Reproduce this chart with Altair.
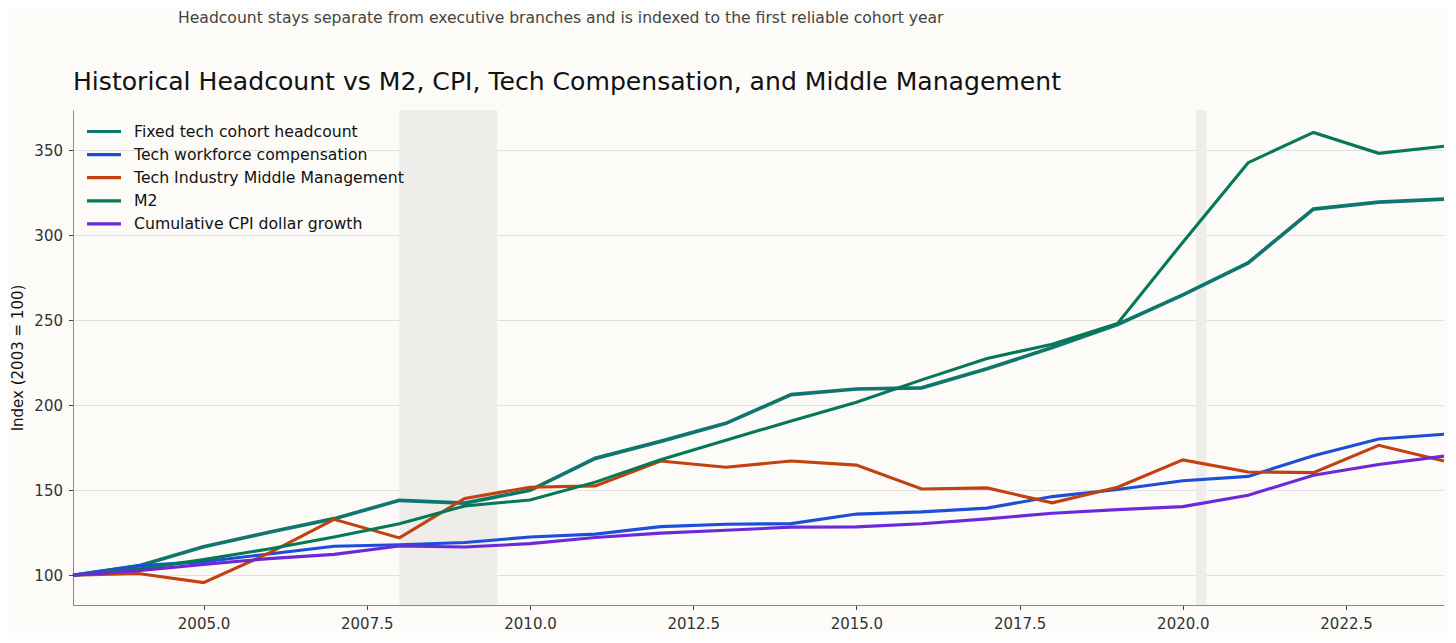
import altair as alt
import pandas as pd

years = list(range(2003, 2025))
headcount = [100, 105.5, 116.8, 125.3, 133.3, 144.1, 142.5, 150.0, 168.8, 178.8, 189.4, 206.3,
             209.6, 210.3, 221.5, 234.0, 247.6, 265.0, 283.8, 315.5, 319.6, 321.3]
compensation = [100, 105.5, 108.0, 112.5, 117.1, 118.0, 119.3, 122.5, 124.2, 128.6, 130.0, 130.4,
                136.0, 137.3, 139.5, 146.3, 150.5, 155.6, 158.2, 170.3, 180.2, 183.0]
midmgmt = [100, 101.0, 95.7, 113.0, 132.9, 122.0, 145.2, 151.8, 152.6, 167.2, 163.6, 167.2,
           164.8, 150.8, 151.4, 142.6, 151.8, 167.9, 160.8, 160.4, 176.5, 167.2]
m2 = [100, 103.6, 109.2, 115.5, 122.5, 130.3, 140.8, 144.3, 154.8, 168.0, 179.5, 190.8,
      201.8, 215.0, 227.6, 236.0, 248.2, 296.0, 342.8, 360.6, 348.3, 352.5]
cpi = [100, 102.7, 106.4, 109.8, 112.3, 117.2, 116.6, 118.6, 122.2, 124.8, 126.5, 128.3,
       128.5, 130.3, 133.2, 136.5, 138.6, 140.4, 147.1, 158.8, 165.2, 170.1]

series_names = ["Fixed tech cohort headcount", "Tech workforce compensation",
                "Tech Industry Middle Management", "M2", "Cumulative CPI dollar growth"]
series_colors = ["#0f766e", "#1d4ed8", "#c2410c", "#047857", "#6d28d9"]
series_values = [headcount, compensation, midmgmt, m2, cpi]

band_start = [2008.0, 2020.2]
band_end = [2009.5, 2020.36]

x_ticks = [2005.0, 2007.5, 2010.0, 2012.5, 2015.0, 2017.5, 2020.0, 2022.5]
y_ticks = [100, 150, 200, 250, 300, 350]

title_text = "Historical Headcount vs M2, CPI, Tech Compensation, and Middle Management"
subtitle_text = ("Headcount stays separate from executive branches and is indexed to the "
                 "first reliable cohort year")

rows = []
for name, vals in zip(series_names, series_values):
    for yr, v in zip(years, vals):
        rows.append({"year": yr, "value": v, "series": name})
df = pd.DataFrame(rows)
bands = pd.DataFrame({"start": band_start, "end": band_end})

FONT = "DejaVu Sans"
xscale = alt.Scale(domain=[2003, 2024], nice=False, zero=False)
yscale = alt.Scale(domain=[82.5, 373.8], nice=False, zero=False)
color = alt.Color(
    "series:N",
    scale=alt.Scale(domain=series_names, range=series_colors),
    title=None,
    legend=alt.Legend(
        orient="none", legendX=12, legendY=13,
        symbolType="stroke", symbolSize=1156, symbolStrokeWidth=3.2,
        clipHeight=17, labelLimit=0,
        labelFont=FONT, labelFontSize=15.7, labelColor="#111111",
        labelOffset=11, rowPadding=6.1, padding=0,
    ),
)

band_layer = alt.Chart(bands).mark_rect(color="#eeede9", opacity=1).encode(
    x=alt.X("start:Q", scale=xscale),
    x2="end:Q",
)

x_enc = alt.X("year:Q", scale=xscale, title=None,
              axis=alt.Axis(values=x_ticks, format=".1f", grid=False))
y_enc = alt.Y("value:Q", scale=yscale, title="Index (2003 = 100)",
              axis=alt.Axis(values=y_ticks, grid=True))

lines_main = alt.Chart(df).transform_filter(
    alt.datum.series == series_names[0]
).mark_line(strokeWidth=3.7).encode(x=x_enc, y=y_enc, color=color)

lines_other = alt.Chart(df).transform_filter(
    alt.datum.series != series_names[0]
).mark_line(strokeWidth=3.1).encode(x=x_enc, y=y_enc, color=color, detail="series:N")

texts = pd.DataFrame({"t": [subtitle_text]})
sub = alt.Chart(texts).mark_text(
    align="left", baseline="middle", font=FONT, fontSize=15.6, color="#444444"
).encode(text="t:N", x=alt.value(105), y=alt.value(-92))

ttl = alt.Chart(pd.DataFrame({"t": [title_text]})).mark_text(
    align="left", baseline="alphabetic", font=FONT, fontSize=25.1, color="#111111"
).encode(text="t:N", x=alt.value(0), y=alt.value(-20))

chart = alt.layer(band_layer, lines_main, lines_other, sub, ttl).properties(
    width=1371, height=495,
    padding={"left": 65, "top": 102, "right": 4, "bottom": 28},
    autosize=alt.AutoSizeParams(type="none"),
    background="#fcfbf8",
).configure_view(stroke=None).configure_axis(
    labelFont=FONT, labelFontSize=15, labelColor="#333333",
    titleFont=FONT, titleFontSize=15, titleFontWeight="normal", titleColor="#111111",
    tickColor="#444444", tickSize=4.5, labelPadding=6,
    domainColor="#888888", gridColor="#e2e0dc", gridWidth=1,
).configure_axisX(labelPadding=7).configure_axisY(titlePadding=8)

chart.save("out.html", embed_options={"renderer": "svg", "actions": False})
